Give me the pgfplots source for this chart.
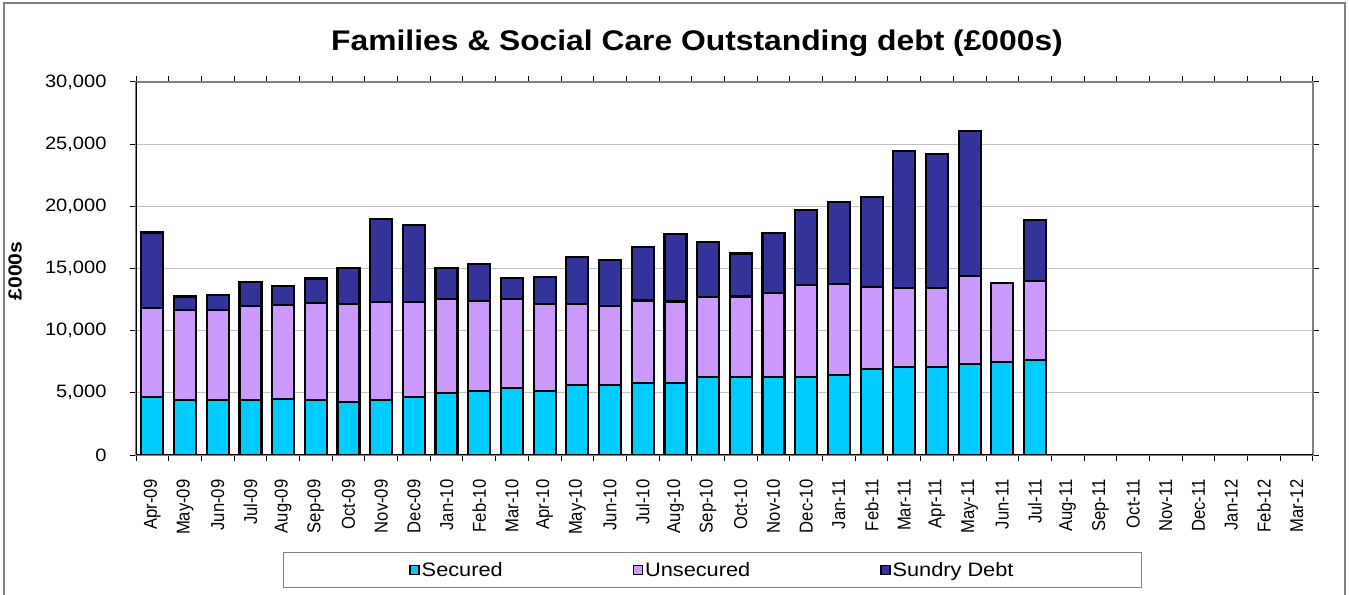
\documentclass[border=0pt]{standalone}
\usepackage{fontspec}
\setmainfont{Liberation Sans}[FakeStretch=1.12]
\newfontfamily\xfont{Liberation Sans}[FakeStretch=0.893]
\usepackage{pgfplots}
\usepackage{pgfplotstable}
\pgfplotsset{compat=1.18}
\definecolor{cSec}{HTML}{00CCFF}
\definecolor{cUns}{HTML}{CC99FF}
\definecolor{cSun}{HTML}{333399}
\definecolor{gridc}{HTML}{C0C0C0}
\definecolor{framec}{HTML}{808080}

\pgfplotstableread{
x sec uns sun
0 4690 7160 6050
1 4400 7240 1100
2 4400 7240 1210
3 4400 7590 1930
4 4480 7560 1560
5 4420 7780 2000
6 4240 7880 2950
7 4400 7880 6710
8 4640 7690 6170
9 4960 7570 2540
10 5150 7240 2950
11 5420 7130 1660
12 5150 6970 2220
13 5630 6490 3830
14 5630 6380 3650
15 5820 6600 4280
16 5820 6520 5440
17 6300 6410 4450
18 6300 6450 3460
19 6300 6730 4800
20 6300 7350 6080
21 6440 7340 6570
22 6920 6620 7220
23 7080 6330 11050
24 7080 6330 10810
25 7350 7050 11690
26 7460 6350 0
27 7620 6350 4930
}\debt

\begin{document}
\begin{tikzpicture}
\useasboundingbox (0bp,0bp) rectangle (1349bp,595bp);
\draw[framec, line width=1.2bp] (4bp,-20bp) rectangle (1345bp,592bp);
\node[font=\bfseries\fontsize{28.5}{32}\selectfont] at (697bp,552bp) {Families \& Social Care Outstanding debt (£000s)};
\node[rotate=90, font=\bfseries\fontsize{19}{22}\selectfont] at (15bp,324bp) {£000s};
\begin{axis}[
  at={(136bp,140bp)}, anchor=south west,
  scale only axis, width=1177bp, height=373bp,
  ybar stacked, bar width=22bp,
  xmin=-0.5, xmax=35.5, ymin=0, ymax=30000,
  xtick={-0.5,0.5,...,35.5},
  x tick label as interval,
  xticklabels={Apr-09,May-09,Jun-09,Jul-09,Aug-09,Sep-09,Oct-09,Nov-09,Dec-09,Jan-10,Feb-10,Mar-10,Apr-10,May-10,Jun-10,Jul-10,Aug-10,Sep-10,Oct-10,Nov-10,Dec-10,Jan-11,Feb-11,Mar-11,Apr-11,May-11,Jun-11,Jul-11,Aug-11,Sep-11,Oct-11,Nov-11,Dec-11,Jan-12,Feb-12,Mar-12},
  ytick={0,5000,...,30000},
  scaled y ticks=false,
  /pgf/number format/assume math mode=true,
  /pgf/number format/1000 sep={,},
  tick align=outside, major tick length=6bp,
  tick style={black, line width=1bp},
  ymajorgrids, grid style={gridc, line width=1.2bp},
  axis line style={framec, line width=1.2bp},
  xticklabel shift=15bp,
  xticklabel style={rotate=90, anchor=east, font=\xfont\fontsize{18.7}{20}\selectfont},
  yticklabel style={font=\fontsize{18}{20}\selectfont, xshift=-20bp},
  every axis plot/.append style={draw=black, line width=2.2bp},
  legend columns=3,
  legend style={at={(0.4898,-0.3083)}, anchor=center, draw=framec, line width=1bp,
    font=\fontsize{19.5}{22}\selectfont, inner xsep=126bp, inner ysep=8bp,
    /tikz/every even column/.append style={column sep=128bp}},
  legend image code/.code={\draw[#1, line width=1.3bp] (0bp,-4.5bp) rectangle (9bp,4.5bp);},
]
\addplot[fill=cSec] table[x=x, y=sec] {\debt};
\addplot[fill=cUns] table[x=x, y=uns] {\debt};
\addplot[fill=cSun] table[x=x, y=sun] {\debt};
\legend{Secured,Unsecured,Sundry Debt}
\draw[black, line width=1.2bp] (rel axis cs:0,1) -- (rel axis cs:0,0) -- (rel axis cs:1,0);
\end{axis}
\end{tikzpicture}
\end{document}
